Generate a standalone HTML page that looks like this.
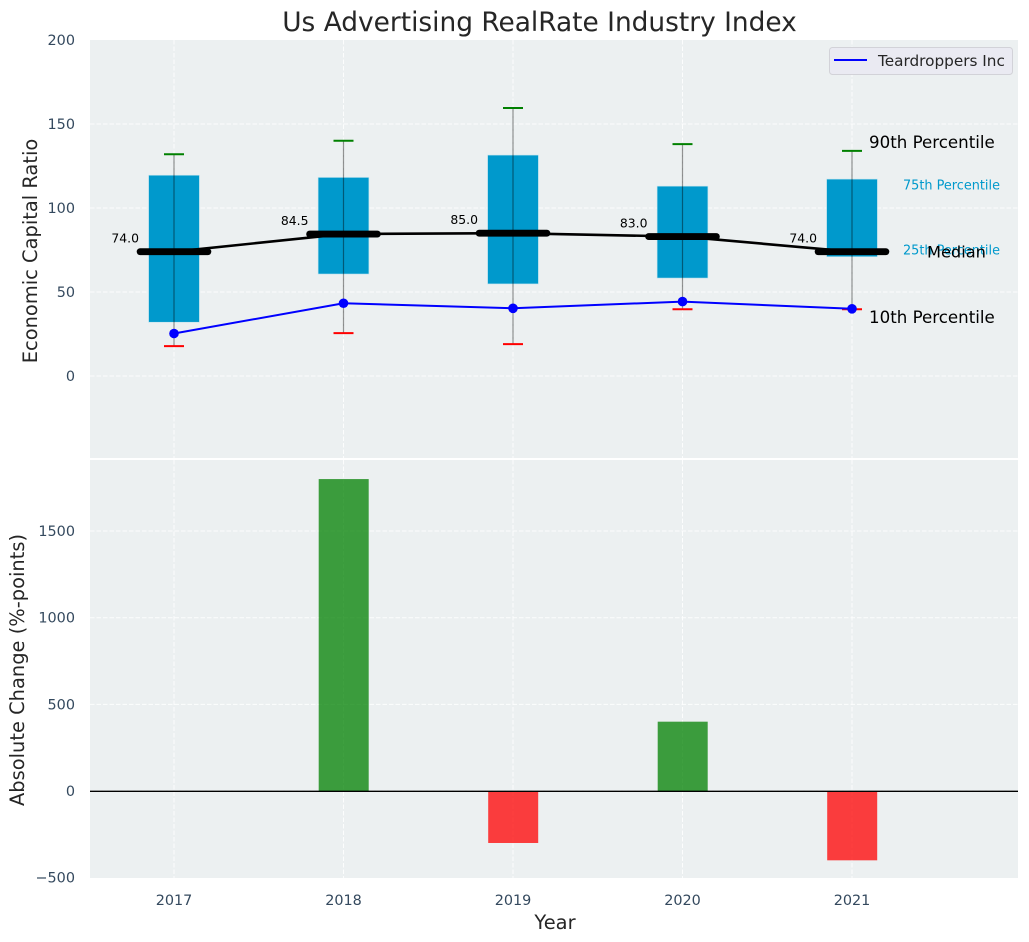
<!DOCTYPE html>
<html>
<head>
<meta charset="utf-8">
<title>Us Advertising RealRate Industry Index</title>
<style>
html,body{margin:0;padding:0;background:#fff;}
svg{display:block;}
text{font-family:"DejaVu Sans","Liberation Sans",sans-serif;}
</style>
</head>
<body>
<svg id="chart" width="1029" height="942" viewBox="0 0 1029 942" xmlns="http://www.w3.org/2000/svg"></svg>
<script>
const years = [2017, 2018, 2019, 2020, 2021];
const p90 = [132, 140, 159.5, 138, 134];
const p75 = [119.5, 118.2, 131.5, 113, 117.2];
const medians = [74, 84.5, 85, 83, 74];
const p25 = [32, 60.7, 54.8, 58.3, 71];
const p10 = [17.8, 25.5, 19, 39.7, 39.7];
const companyValues = [25.3, 43.3, 40.3, 44.3, 40];
const changes = [0, 1800, -300, 400, -400];
const topTicks = [0, 50, 100, 150, 200];
const bottomTicks = [-500, 0, 500, 1000, 1500];

const svg = document.getElementById('chart');
const NS = 'http://www.w3.org/2000/svg';
const L = 90, R = 1018;
const topY0 = 40, topY1 = 458, botY0 = 460, botY1 = 878;

function xPos(v) { return 174 + (v - 2017) * 169.5; }
function yTop(v) { return 376 - v * 1.68; }
function yBot(v) { return 791 - v * 0.1733; }

function add(tag, attrs, content) {
  const el = document.createElementNS(NS, tag);
  for (const k in attrs) el.setAttribute(k, attrs[k]);
  if (content !== undefined) el.textContent = content;
  svg.appendChild(el);
  return el;
}
let el;

// axes backgrounds
el = add('rect', {x: L, y: topY0, width: R - L, height: topY1 - topY0, fill: '#ecf0f1'});


el = add('rect', {x: L, y: botY0, width: R - L, height: botY1 - botY0, fill: '#ecf0f1'});



const gridStyle = {stroke: '#fff', 'stroke-opacity': 0.85, 'stroke-width': 1, 'stroke-dasharray': '4.5 2', fill: 'none'};

// gridlines
years.forEach(function (y) {
  el = add('line', Object.assign({x1: xPos(y), x2: xPos(y), y1: topY0, y2: topY1}, gridStyle));
  
  
  el = add('line', Object.assign({x1: xPos(y), x2: xPos(y), y1: botY0, y2: botY1}, gridStyle));
  
  
});
topTicks.forEach(function (t) {
  if (t === 200) return;
  el = add('line', Object.assign({x1: L, x2: R, y1: yTop(t), y2: yTop(t)}, gridStyle));
  
  
});
bottomTicks.forEach(function (t) {
  if (t === -500) return;
  el = add('line', Object.assign({x1: L, x2: R, y1: yBot(t), y2: yBot(t)}, gridStyle));
  
  
});

// tick labels
topTicks.forEach(function (t) {
  el = add('text', {x: 75, y: yTop(t) + 5, 'text-anchor': 'end', 'font-size': 14.4, fill: '#34495e'}, String(t));
  
  
});
bottomTicks.forEach(function (t) {
  el = add('text', {x: 75, y: yBot(t) + 5, 'text-anchor': 'end', 'font-size': 14.4, fill: '#34495e'}, String(t).replace('-', '\u2212'));
  
  
});
years.forEach(function (y) {
  el = add('text', {x: xPos(y), y: 905, 'text-anchor': 'middle', 'font-size': 14.4, fill: '#34495e'}, String(y));
  
  
});

// interquartile boxes
years.forEach(function (y, i) {
  el = add('rect', {x: xPos(y) - 25.4, y: yTop(p75[i]), width: 50.8, height: yTop(p25[i]) - yTop(p75[i]), fill: '#0099cc', stroke: '#bfe3ee', 'stroke-width': 0.6});
  
  
});

// median connecting line
el = add('polyline', {points: years.map(function (y, i) { return xPos(y) + ',' + yTop(medians[i]); }).join(' '), fill: 'none', stroke: '#000', 'stroke-width': 2.6});



// median bars
years.forEach(function (y, i) {
  el = add('line', {x1: xPos(y) - 33.9, x2: xPos(y) + 33.9, y1: yTop(medians[i]), y2: yTop(medians[i]), stroke: '#000', 'stroke-width': 6.8, 'stroke-linecap': 'round'});
  
  
});

// whiskers and caps
years.forEach(function (y, i) {
  el = add('line', {x1: xPos(y), x2: xPos(y), y1: yTop(p90[i]), y2: yTop(p10[i]), stroke: '#000', 'stroke-opacity': 0.42, 'stroke-width': 1.2});
  
  
  el = add('line', {x1: xPos(y) - 10, x2: xPos(y) + 10, y1: yTop(p90[i]), y2: yTop(p90[i]), stroke: '#008000', 'stroke-width': 2});
  
  
  el = add('line', {x1: xPos(y) - 10, x2: xPos(y) + 10, y1: yTop(p10[i]), y2: yTop(p10[i]), stroke: '#ff0000', 'stroke-width': 2});
  
  
});

// company series
el = add('polyline', {points: years.map(function (y, i) { return xPos(y) + ',' + yTop(companyValues[i]); }).join(' '), fill: 'none', stroke: '#0000ff', 'stroke-width': 2});


years.forEach(function (y, i) {
  el = add('circle', {cx: xPos(y), cy: yTop(companyValues[i]), r: 4.8, fill: '#0000ff'});
  
  
});

// median value labels
years.forEach(function (y, i) {
  el = add('text', {x: xPos(y) - 35, y: yTop(medians[i]) - 9, 'text-anchor': 'end', 'font-size': 12.4, fill: '#000'}, medians[i].toFixed(1));
  
  
});

// percentile annotations
el = add('text', {x: 869, y: 148, 'font-size': 16.67, fill: '#000'}, '90th Percentile');


el = add('text', {x: 903, y: 189.5, 'font-size': 12.85, fill: '#0099cc'}, '75th Percentile');


el = add('text', {x: 903, y: 254.5, 'font-size': 12.85, fill: '#0099cc'}, '25th Percentile');


el = add('text', {x: 927, y: 257.5, 'font-size': 16.2, fill: '#000'}, 'Median');


el = add('text', {x: 869, y: 323, 'font-size': 16.67, fill: '#000'}, '10th Percentile');



// legend
el = add('rect', {x: 829.5, y: 47.5, width: 183, height: 27, rx: 3, fill: '#eaeaf2', stroke: '#d2d2d8', 'stroke-width': 1});


el = add('line', {x1: 834, x2: 867, y1: 60, y2: 60, stroke: '#0000ff', 'stroke-width': 2});


el = add('text', {x: 878, y: 66, 'font-size': 15.28, fill: '#262626'}, 'Teardroppers Inc');



// change bars
years.forEach(function (y, i) {
  if (changes[i] === 0) return;
  const top = yBot(Math.max(changes[i], 0));
  const bottom = yBot(Math.min(changes[i], 0));
  el = add('rect', {x: xPos(y) - 24.8, y: top, width: 50, height: bottom - top, fill: changes[i] > 0 ? '#008000' : '#ff0000', 'fill-opacity': 0.75});
  
  
});
el = add('line', {x1: L, x2: R, y1: yBot(0) + 0.3, y2: yBot(0) + 0.3, stroke: '#000', 'stroke-width': 1.4});



// titles
el = add('text', {x: 539.5, y: 31, 'text-anchor': 'middle', 'font-size': 26.4, fill: '#262626'}, 'Us Advertising RealRate Industry Index');


el = add('text', {x: 555, y: 929, 'text-anchor': 'middle', 'font-size': 19.44, fill: '#262626'}, 'Year');


el = add('text', {x: 0, y: 0, 'text-anchor': 'middle', 'font-size': 19.44, fill: '#262626', transform: 'translate(37,251) rotate(-90)'}, 'Economic Capital Ratio');


el = add('text', {x: 0, y: 0, 'text-anchor': 'middle', 'font-size': 19.44, fill: '#262626', transform: 'translate(24,670) rotate(-90)'}, 'Absolute Change (%-points)');


</script>
</body>
</html>
